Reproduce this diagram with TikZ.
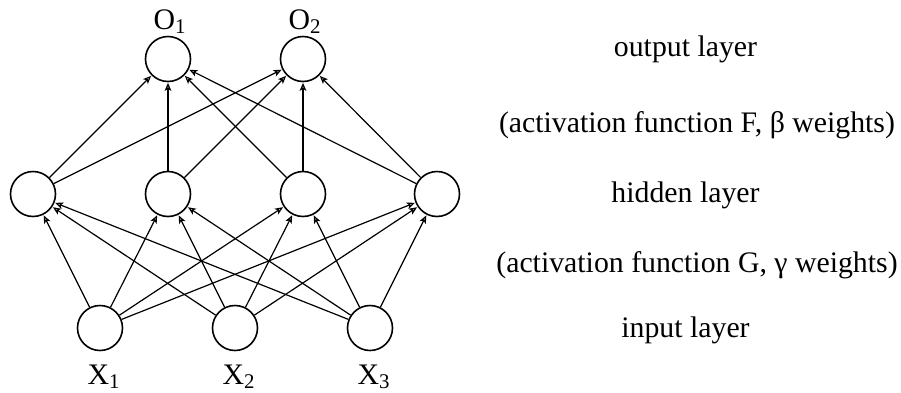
\documentclass[tikz,border=0pt]{standalone}
\usepackage{fontspec}
\setmainfont{Liberation Serif}
\usepackage{tikz}
\usetikzlibrary{arrows.meta,positioning}

\begin{document}
\begin{tikzpicture}[
  x=0.5pt, y=-0.5pt,
  >={Stealth[open, length=4pt, width=3.4pt, inset=1pt]},
  font=\fontsize{14.9}{18}\selectfont,
  neuron/.style={draw, circle, line width=0.8pt, minimum size=22.5pt, inner sep=0pt},
  link/.style={->, line width=0.6pt, shorten >=0.3pt}
]
\useasboundingbox (0,0) rectangle (901,392);

% ==================== Nodes ====================
% Output layer
\node (o1) [neuron] at (168, 59) {};
\node (o2) [neuron] at (303, 59) {};
\node (lo1) [anchor=base] at (170, 29) {O\textsubscript{1}};
\node (lo2) [anchor=base] at (305, 29) {O\textsubscript{2}};

% Hidden layer
\node (h1) [neuron] at (33, 194) {};
\node (h2) [neuron] at (168, 194) {};
\node (h3) [neuron] at (303, 194) {};
\node (h4) [neuron] at (437, 194) {};

% Input layer
\node (x1) [neuron] at (100, 328) {};
\node (x2) [neuron] at (235, 328) {};
\node (x3) [neuron] at (370, 328) {};
\node (lx1) [anchor=base] at (104, 384) {X\textsubscript{1}};
\node (lx2) [anchor=base] at (239, 384) {X\textsubscript{2}};
\node (lx3) [anchor=base] at (374, 384) {X\textsubscript{3}};

% ==================== Connectors ====================
\foreach \i in {1,2,3}
  \foreach \j in {1,2,3,4}
    \draw[link] (x\i) -- (h\j);
\foreach \j in {1,2,3,4}
  \foreach \k in {1,2}
    \draw[link] (h\j) -- (o\k);

% ==================== Layer captions ====================
\node (capo) [anchor=base] at (685.5, 56) {output layer};
\node (capf) [anchor=base] at (697, 132) {(activation function F, β weights)};
\node (caph) [anchor=base] at (685.5, 202) {hidden layer};
\node (capg) [anchor=base] at (697, 272) {(activation function G, γ weights)};
\node (capi) [anchor=base] at (685.5, 337) {input layer};
\end{tikzpicture}
\end{document}
